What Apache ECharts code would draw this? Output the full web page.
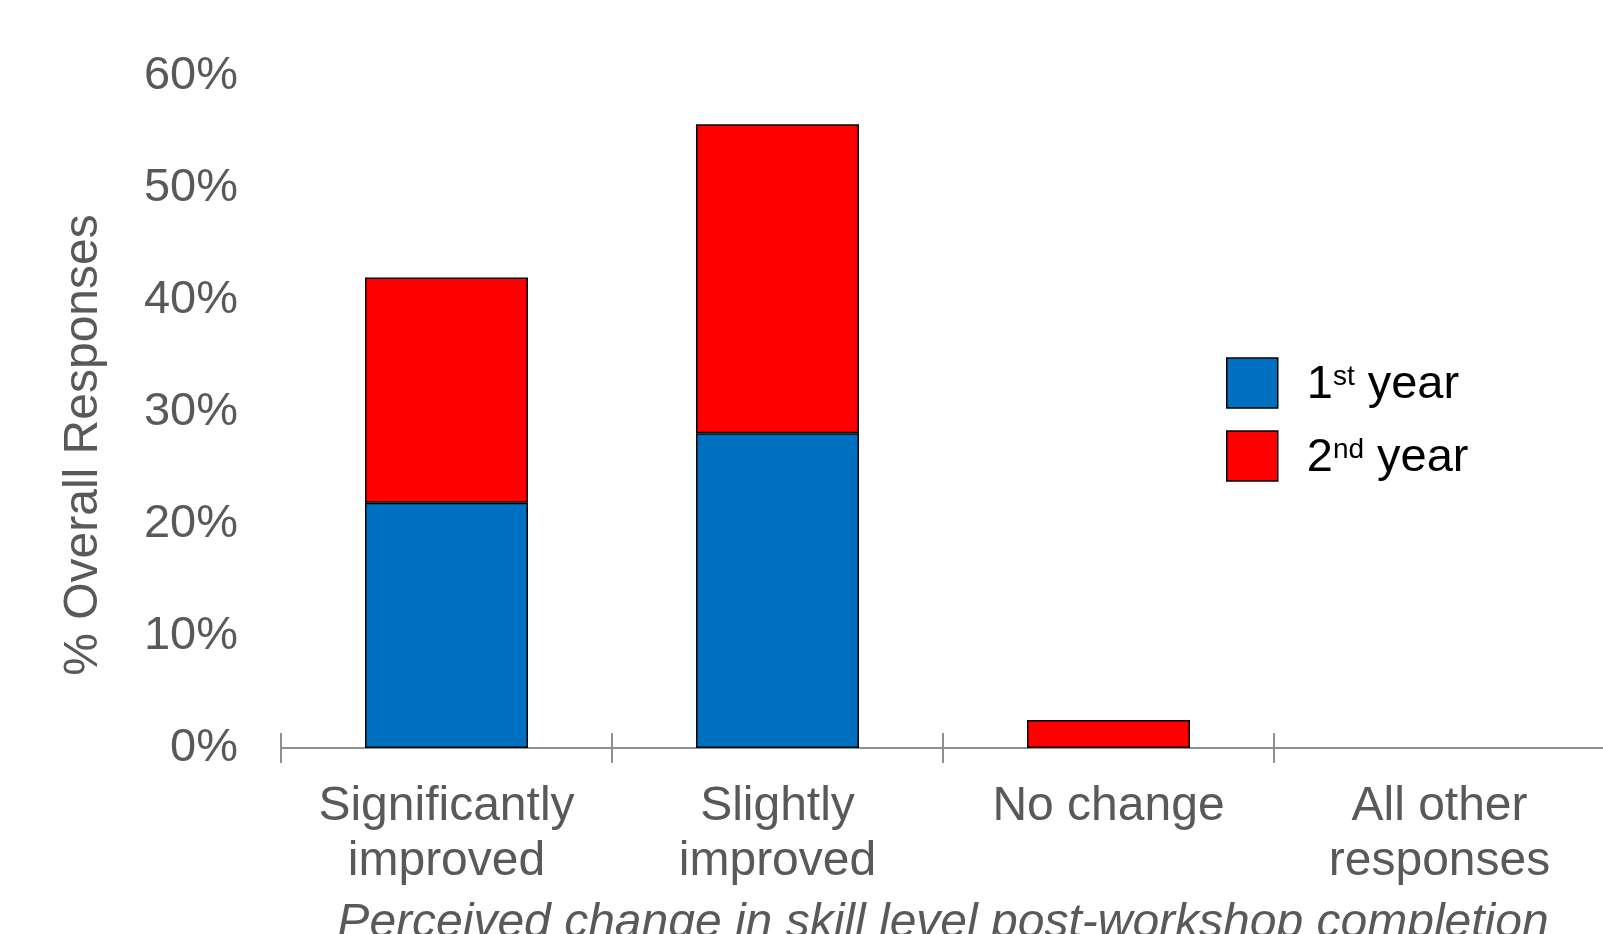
<!DOCTYPE html>
<html>
<head>
<meta charset="utf-8">
<style>
  html, body { margin: 0; padding: 0; background: #ffffff; }
  #chart { width: 1603px; height: 934px; }
</style>
<script src="https://cdn.jsdelivr.net/npm/echarts@6/dist/echarts.min.js"></script>
</head>
<body>
<div id="chart"></div>
<script>
// Survey responses: perceived change in skill level, split by year of study
const categories = ['Significantly\nimproved', 'Slightly\nimproved', 'No change', 'All other\nresponses'];
const firstYear  = [21.9, 28.1, 0, 0];
const secondYear = [20.1, 27.6, 2.5, 0];
const yTicks = [0, 10, 20, 30, 40, 50, 60];

const FONT = "'Liberation Sans', Arial, Helvetica, sans-serif";
const GREY = '#595959';
const AXIS_GREY = '#8f8f8f';

// empty segments are skipped rather than drawn as a flat outlined bar
const asBarData = arr => arr.map(v => (v === 0 ? '-' : v));

const chart = echarts.init(document.getElementById('chart'), null, { renderer: 'canvas' });

chart.setOption({
  animation: false,
  backgroundColor: '#ffffff',
  grid: { left: 281, top: 76, width: 1324, height: 672, containLabel: false, outerBoundsMode: 'none' },
  legend: {
    left: 1226,
    top: 357,
    padding: 0,
    orient: 'vertical',
    itemWidth: 51,
    itemHeight: 50,
    itemGap: 21,
    icon: 'rect',
    selectedMode: false,
    itemStyle: { borderColor: '#000000', borderWidth: 1.5 },
    formatter: function (name) {
      return name === '1st year'
        ? '{b|1}{s|st}{b| year}'
        : '{b|2}{s|nd}{b| year}';
    },
    textStyle: {
      padding: [0, 0, 0, 24],
      rich: {
        b: { fontFamily: FONT, fontSize: 47, color: '#000000', lineHeight: 52, verticalAlign: 'bottom' },
        s: { fontFamily: FONT, fontSize: 28, color: '#000000', lineHeight: 52, verticalAlign: 'top', padding: [6, 0, 0, 0] }
      }
    },
    data: ['1st year', '2nd year']
  },
  xAxis: [
    {
      type: 'category',
      data: categories,
      axisLine: { show: true, lineStyle: { color: AXIS_GREY, width: 2 } },
      axisTick: { show: true, alignWithLabel: false, length: 15, lineStyle: { color: AXIS_GREY, width: 2 } },
      axisLabel: {
        margin: 31,
        fontFamily: FONT,
        fontSize: 48,
        lineHeight: 55,
        color: GREY,
        interval: 0
      },
      name: 'Perceived change in skill level post-workshop completion',
      nameLocation: 'middle',
      nameGap: 152,
      nameTextStyle: { fontFamily: FONT, fontSize: 48, fontStyle: 'italic', color: GREY }
    },
    {
      // upper half of the boundary ticks, so they cross the baseline
      type: 'category',
      data: categories,
      position: 'bottom',
      axisLine: { show: false },
      axisTick: { show: true, inside: true, alignWithLabel: false, length: 15, lineStyle: { color: AXIS_GREY, width: 2 } },
      axisLabel: { show: false }
    }
  ],
  yAxis: {
    type: 'value',
    min: 0,
    max: 60,
    interval: 10,
    axisLine: { show: false },
    axisTick: { show: false },
    splitLine: { show: false },
    axisLabel: {
      margin: 43,
      fontFamily: FONT,
      fontSize: 47,
      color: GREY,
      formatter: function (v) { return yTicks.indexOf(v) >= 0 ? v + '%' : ''; }
    },
    name: '% Overall Responses',
    nameLocation: 'middle',
    nameGap: 173,
    nameTextStyle: { fontFamily: FONT, fontSize: 48, color: GREY, padding: [0, 66, 0, 0] }
  },
  series: [
    {
      name: '1st year',
      type: 'bar',
      stack: 'total',
      barWidth: 163,
      data: asBarData(firstYear),
      itemStyle: { color: '#0070C0', borderColor: '#000000', borderWidth: 1.5 }
    },
    {
      name: '2nd year',
      type: 'bar',
      stack: 'total',
      barWidth: 163,
      data: asBarData(secondYear),
      itemStyle: { color: '#FF0000', borderColor: '#000000', borderWidth: 1.5 }
    }
  ]
});
</script>
</body>
</html>
